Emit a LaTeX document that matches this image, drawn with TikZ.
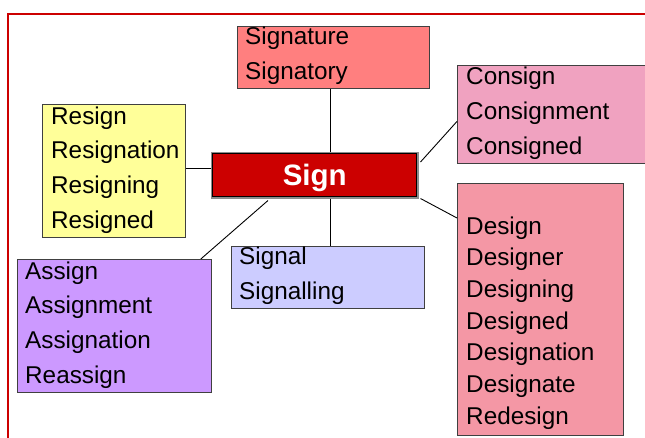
\documentclass[tikz,border=0pt]{standalone}
\usepackage{fontspec}
\setmainfont{Liberation Sans}
\usetikzlibrary{positioning}

\definecolor{frameRed}{HTML}{CC0000}
\definecolor{signRed}{HTML}{CC0000}
\definecolor{signatureRed}{HTML}{FF7F7F}
\definecolor{consignPink}{HTML}{F0A2C0}
\definecolor{resignYellow}{HTML}{FFFF99}
\definecolor{assignPurple}{HTML}{CC99FF}
\definecolor{signalBlue}{HTML}{CCCCFF}
\definecolor{designPink}{HTML}{F497A5}

\tikzset{
  box/.style={draw=black!75, line width=0.8pt, anchor=north west, inner sep=0pt},
  word/.style={anchor=base west, inner sep=0pt, font=\fontsize{24.3}{28}\selectfont},
  link/.style={draw=black, line width=0.9pt}
}

\begin{document}
\begin{tikzpicture}[x=1pt, y=1pt]
\clip (0,0) rectangle (645,-437);
\draw[frameRed, line width=2pt] (8,-440) -- (8,-14) -- (650,-14);

% boxes
\node[box, fill=signatureRed, minimum width=192pt, minimum height=62pt] (signature) at (237,-26) {};
\node[box, fill=consignPink, minimum width=200pt, minimum height=98pt] (consign) at (457,-65) {};
\node[box, fill=resignYellow, minimum width=143pt, minimum height=133pt] (resign) at (42,-104) {};
\node[box, fill=assignPurple, minimum width=194pt, minimum height=133pt] (assign) at (17,-259) {};
\node[box, fill=signalBlue, minimum width=193pt, minimum height=62pt] (signal) at (231,-246) {};
\node[box, fill=designPink, minimum width=166pt, minimum height=252pt] (design) at (457,-183) {};
\node[box, fill=signRed, draw=black!45, line width=1.5pt, minimum width=206pt, minimum height=45pt,
      text=white, font=\bfseries\fontsize{29.5}{30}\selectfont] (sign) at (211,-152) {\raisebox{-3pt}[\height][\depth]{Sign}};
\draw[black, line width=0.8pt] ([shift={(1.8pt,-1.8pt)}]sign.north west) rectangle ([shift={(-1.8pt,1.8pt)}]sign.south east);

% words
\foreach \w [count=\i] in {Signature,Signatory}
  \node[word] (signature-\i) at ([xshift=8pt,yshift={-18.5pt-(\i-1)*35pt}]signature.north west) {\w};
\foreach \w [count=\i] in {Consign,Consignment,Consigned}
  \node[word] (consign-\i) at ([xshift=9pt,yshift={-19pt-(\i-1)*35pt}]consign.north west) {\w};
\foreach \w [count=\i] in {Resign,Resignation,Resigning,Resigned}
  \node[word] (resign-\i) at ([xshift=9pt,yshift={-20pt-(\i-1)*34.7pt}]resign.north west) {\w};
\foreach \w [count=\i] in {Assign,Assignment,Assignation,Reassign}
  \node[word] (assign-\i) at ([xshift=8pt,yshift={-20pt-(\i-1)*34.7pt}]assign.north west) {\w};
\foreach \w [count=\i] in {Signal,Signalling}
  \node[word] (signal-\i) at ([xshift=8pt,yshift={-18.5pt-(\i-1)*35pt}]signal.north west) {\w};
\foreach \w [count=\i] in {Design,Designer,Designing,Designed,Designation,Designate,Redesign}
  \node[word] (design-\i) at ([xshift=9pt,yshift={-51pt-(\i-1)*31.7pt}]design.north west) {\w};

% links
\coordinate (stem) at (330,0);
\draw[link] (signature.south -| stem) -- (sign.north -| stem);
\draw[link] (sign.south -| stem) -- (signal.north -| stem);
\draw[link] ([yshift=2.5pt]resign.east) -- ([yshift=2.5pt]resign.east -| sign.west);
\draw[link] ([shift={(2pt,-10pt)}]sign.north east) -- ([yshift=-7pt]consign.west);
\draw[link] ([xshift=2pt]sign.south east) -- ([yshift=-35pt]design.north west);
\draw[link] ([shift={(57pt,-2pt)}]sign.south west) -- ([xshift=-11pt]assign.north east);
\end{tikzpicture}
\end{document}
